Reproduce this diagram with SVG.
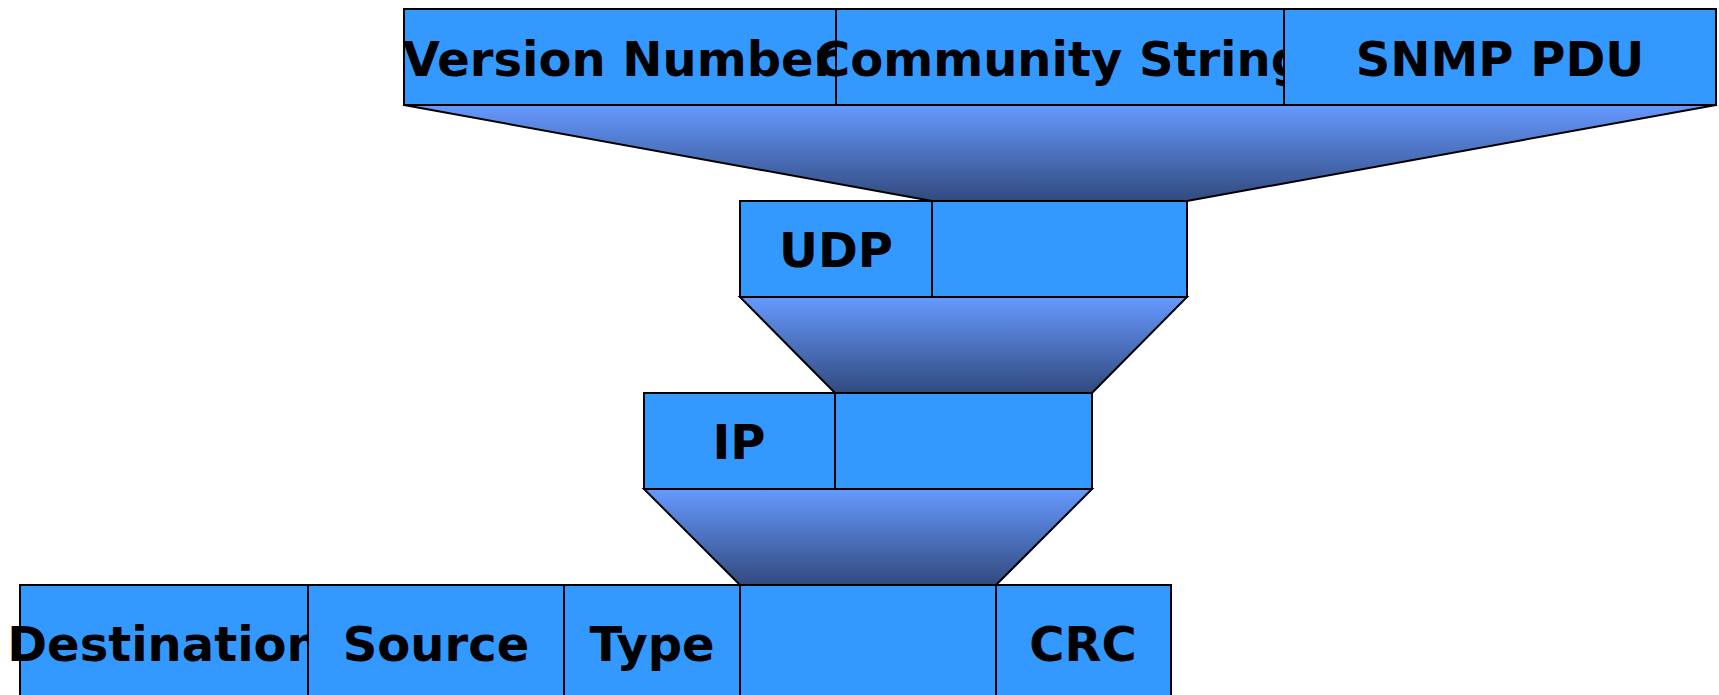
<svg xmlns="http://www.w3.org/2000/svg" width="1719" height="695" viewBox="0 0 1719 695">
<defs>
<linearGradient id="funnel" x1="0" y1="0" x2="0" y2="1">
<stop offset="0" stop-color="#6699ff"/>
<stop offset="1" stop-color="#324a7e"/>
</linearGradient>
</defs>
<style>
.f{fill:#3399ff;stroke:#000;stroke-width:2}
.t{font-family:"DejaVu Sans",sans-serif;font-weight:bold;font-size:48px;fill:#000;text-anchor:middle}
.fun{fill:url(#funnel);stroke:#000;stroke-width:2;stroke-linejoin:miter}
</style>
<rect width="1719" height="695" fill="#fff"/>
<g id="connectors">
<polygon class="fun" points="404,105 1716,105 1187,201 932,201"/>
<polygon class="fun" points="740,297 1187,297 1092,393 835,393"/>
<polygon class="fun" points="644,489 1092,489 996,585 740,585"/>
</g>
<g id="version-number"><rect class="f" x="404" y="9" width="432" height="96"/><text class="t" x="620" y="76">Version Number</text></g>
<g id="community-string"><rect class="f" x="836" y="9" width="448" height="96"/><text class="t" x="1060" y="76">Community String</text></g>
<g id="snmp-pdu"><rect class="f" x="1284" y="9" width="432" height="96"/><text class="t" x="1500" y="76">SNMP PDU</text></g>
<g id="udp-header"><rect class="f" x="740" y="201" width="192" height="96"/><text class="t" x="836" y="267">UDP</text></g>
<g id="udp-data"><rect class="f" x="932" y="201" width="255" height="96"/></g>
<g id="ip-header"><rect class="f" x="644" y="393" width="191" height="96"/><text class="t" x="739" y="459">IP</text></g>
<g id="ip-data"><rect class="f" x="835" y="393" width="257" height="96"/></g>
<g id="destination"><rect class="f" x="20" y="585" width="288" height="125"/><text class="t" x="164" y="661">Destination</text></g>
<g id="source"><rect class="f" x="308" y="585" width="256" height="125"/><text class="t" x="436" y="661">Source</text></g>
<g id="type"><rect class="f" x="564" y="585" width="176" height="125"/><text class="t" x="652" y="661">Type</text></g>
<g id="eth-data"><rect class="f" x="740" y="585" width="256" height="125"/></g>
<g id="crc"><rect class="f" x="996" y="585" width="175" height="125"/><text class="t" x="1083" y="661">CRC</text></g>
</svg>
